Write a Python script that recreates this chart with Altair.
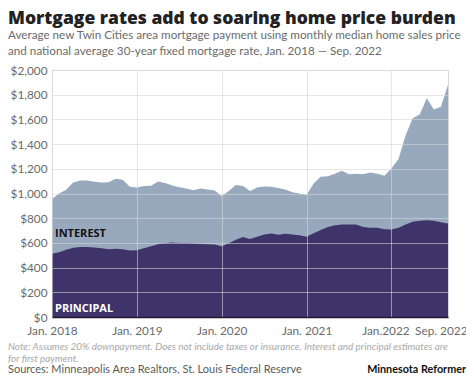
import altair as alt
import pandas as pd

# Monthly values, Jan. 2018 - Sep. 2022 (57 months)
months = pd.date_range("2018-01-01", "2022-09-01", freq="MS").strftime("%Y-%m").tolist()

total_payment = [
    955, 1000, 1030, 1090, 1105, 1105, 1095, 1090, 1092, 1120, 1112, 1055,
    1048, 1060, 1062, 1098, 1085, 1065, 1050, 1040, 1027, 1040, 1032, 1025,
    980, 1020, 1068, 1060, 1020, 1048, 1057, 1054, 1045, 1033, 1010, 1000,
    987, 1080, 1135, 1140, 1160, 1184, 1155, 1160, 1155, 1170, 1160, 1143,
    1203, 1280, 1470, 1610, 1640, 1771, 1680, 1703, 1879,
]
principal = [
    512, 525, 545, 560, 567, 566, 562, 556, 548, 552, 548, 538,
    540, 556, 572, 590, 598, 603, 600, 600, 596, 592, 590, 588,
    573, 598, 625, 648, 632, 650, 668, 676, 666, 675, 668, 662,
    650, 678, 705, 728, 742, 750, 750, 748, 728, 722, 722, 710,
    709, 722, 748, 772, 780, 784, 780, 768, 757,
]

tick_index = [0, 12, 24, 36, 48, 56]
tick_labels = ["Jan. 2018", "Jan. 2019", "Jan. 2020", "Jan. 2021", "Jan.2022", "Sep. 2022"]
y_ticks = [0, 200, 400, 600, 800, 1000, 1200, 1400, 1600, 1800, 2000]

title = "Mortgage rates add to soaring home price burden"
subtitle = [
    "Average new Twin Cities area mortgage payment using monthly median home sales price",
    "and national average 30-year fixed mortgage rate, Jan. 2018 \u2014 Sep. 2022",
]
note = [
    "Note: Assumes 20% downpayment. Does not include taxes or insurance. Interest and principal estimates are",
    "for first payment.",
]
source = "Sources: Minneapolis Area Realtors, St. Louis Federal Reserve"
credit = "Minnesota Reformer"

df = pd.DataFrame({
    "i": list(range(len(months))),
    "month": months,
    "total": total_payment,
    "principal": principal,
})

FONT = "Open Sans"
TFONT = "Lato"
W, H = 396, 247

label_expr = "{}[indexof({}, datum.value)]".format(
    "[" + ",".join("'%s'" % t for t in tick_labels) + "]",
    "[" + ",".join(str(v) for v in tick_index) + "]",
)
last_test = "datum.value == %d" % tick_index[-1]
prev_test = "datum.value == %d" % tick_index[-2]

x_axis = alt.Axis(
    values=tick_index, labelExpr=label_expr, title=None, ticks=False,
    domain=True, domainColor="#1e1a33", domainWidth=1.5,
    grid=True, gridColor="#d6d6d6", gridOpacity=0.6,
    labelFont=TFONT, labelFontSize=11.8, labelColor="#6a6a6a",
    labelPadding=8, labelFlush=False, labelOverlap=False, zindex=1,
    labelAlign={"condition": {"test": last_test, "value": "right"}, "value": "center"},
    labelOffset={"condition": [{"test": last_test, "value": 19},
                               {"test": prev_test, "value": -6}], "value": 0},
)
y_axis = alt.Axis(
    values=y_ticks, format="$,d", title=None, ticks=False, domain=False,
    grid=True, gridColor="#d6d6d6", gridOpacity=0.6,
    labelFont=TFONT, labelFontSize=11.8, labelColor="#6a6a6a",
    labelPadding=5, labelOverlap=False, zindex=1,
)
x_scale = alt.Scale(domain=[0, 56], nice=False, zero=False)
y_scale = alt.Scale(domain=[0, 2000], nice=False)

base = alt.Chart(df)
total_area = base.mark_area(color="#98a9bd", interpolate="linear").encode(
    x=alt.X("i:Q", scale=x_scale, axis=x_axis),
    y=alt.Y("total:Q", scale=y_scale, axis=y_axis),
)
principal_area = base.mark_area(color="#3f3469", interpolate="linear").encode(
    x=alt.X("i:Q", scale=x_scale, axis=x_axis),
    y=alt.Y("principal:Q", scale=y_scale, axis=y_axis),
)


def text_layer(lines, x, y, size, color, weight="normal", style="normal",
               align="left", line_height=None, font=FONT):
    d = pd.DataFrame({"t": [lines]})
    kw = dict(align=align, baseline="alphabetic", font=font, fontSize=size,
              color=color, fontWeight=weight, fontStyle=style)
    if line_height is not None:
        kw["lineHeight"] = line_height
    return alt.Chart(d).mark_text(**kw).encode(
        x=alt.value(x), y=alt.value(y), text="t:N"
    )


layers = [
    total_area,
    principal_area,
    text_layer("INTEREST", 3, 167, 11, "#111111", weight="bold"),
    text_layer("PRINCIPAL", 3, 241.5, 11, "#ffffff", weight="bold"),
    text_layer(title, -44, -46, 17.5, "#222222", weight=800),
    text_layer(subtitle, -44, -31, 11.7, "#6b6b6b", line_height=16, font=TFONT),
    text_layer(note, -44, 280, 9.9, "#a8a8a8", style="italic", line_height=12, font=TFONT),
    text_layer(source, -44, 303, 11, "#5a5a5a", font=TFONT),
    text_layer(credit, 414, 303, 10.8, "#111111", weight="bold", align="right", font=TFONT),
]

chart = alt.layer(*layers).properties(
    width=W, height=H,
    autosize=alt.AutoSizeParams(type="none"),
    padding={"left": 44, "top": 62, "right": 18, "bottom": 58},
).configure_view(strokeWidth=0).configure(background="#ffffff")

chart.save("out.html", embed_options={"renderer": "svg", "actions": False})
